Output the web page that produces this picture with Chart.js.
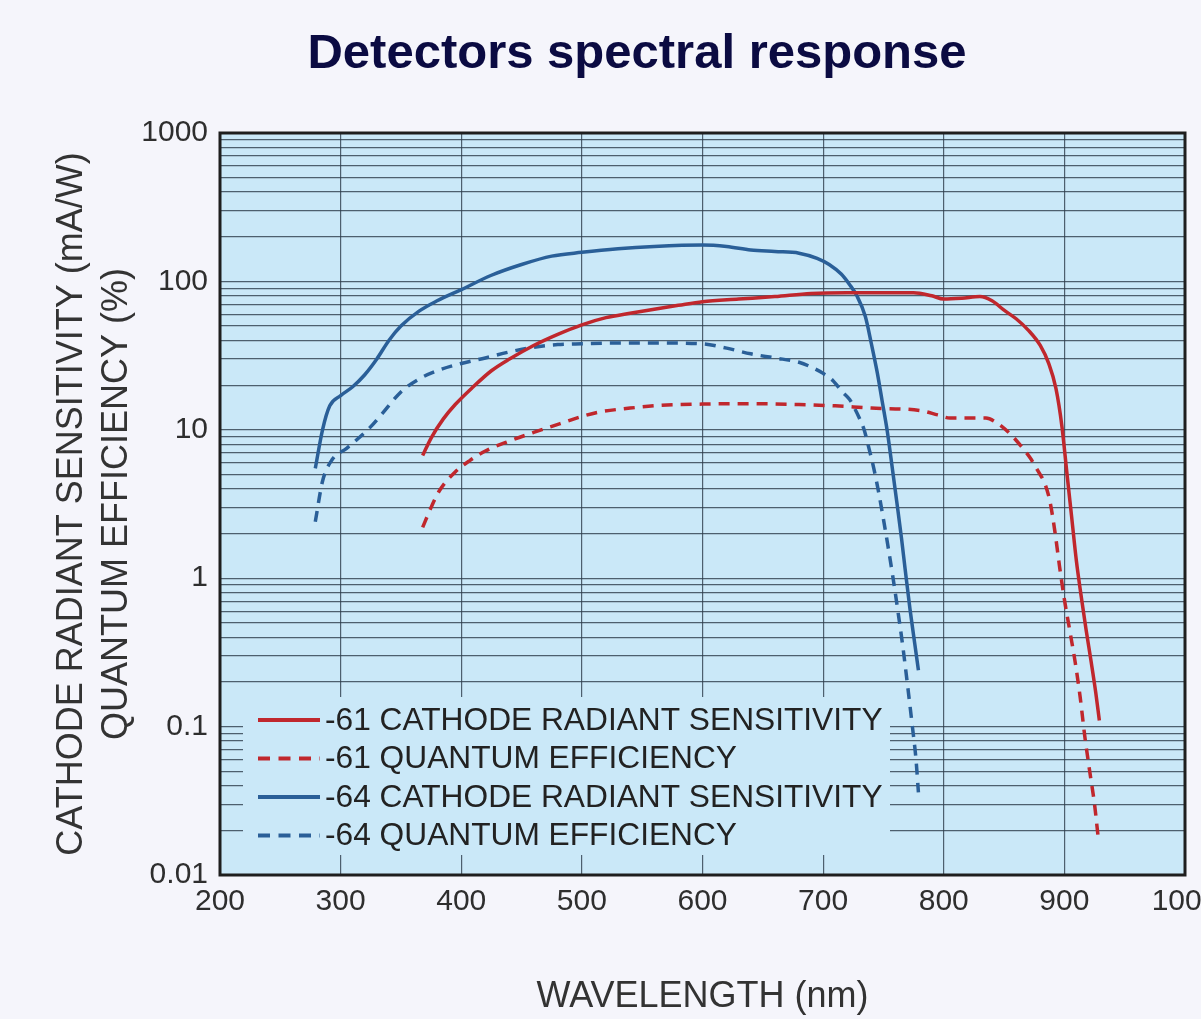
<!DOCTYPE html>
<html>
<head>
<meta charset="utf-8">
<title>Detectors spectral response</title>
<script src="https://cdn.jsdelivr.net/npm/chart.js@4.4.1/dist/chart.umd.min.js"></script>
<style>
  html, body { margin: 0; padding: 0; background: #f5f5fb; overflow: hidden; }
  #wrap { width: 1240px; height: 1019px; }
</style>
</head>
<body>
<div id="wrap"><canvas id="chart" width="1240" height="1019"></canvas></div>
<script>
// ---- axis ticks ----
const wavelengthTicks = [200, 300, 400, 500, 600, 700, 800, 900, 1000];
const decadeTicks = [0.01, 0.1, 1, 10, 100, 1000];
const decadeLabels = ['0.01', '0.1', '1', '10', '100', '1000'];

// ---- -61 photocathode: radiant sensitivity (mA/W) ----
const wl61Sens = [368, 375, 385, 395, 410, 425, 440, 460, 480, 500, 520, 540, 560, 580, 600, 630, 660, 690, 720, 750, 775, 790, 800, 815, 830, 840, 850, 860, 870, 880, 887, 893, 898, 902, 906, 910, 914, 918, 922, 926, 929];
const sens61 = [6.7, 8.8, 11.8, 14.8, 19.5, 25, 30, 37, 44, 51, 57, 61, 65, 69, 73, 76, 79, 83, 84, 84, 84, 80, 76, 77, 79, 74, 64, 56, 47, 37, 28, 19, 10.5, 5.2, 2.6, 1.3, 0.75, 0.45, 0.28, 0.17, 0.11];

// ---- -61 photocathode: quantum efficiency (%) ----
const wl61QE = [368, 375, 382, 395, 407, 420, 440, 460, 482, 500, 515, 540, 565, 600, 640, 680, 710, 740, 780, 795, 805, 835, 845, 855, 865, 872, 878, 884, 888, 892, 896, 900, 905, 909, 913, 917, 921, 925, 928];
const qe61 = [2.2, 3.0, 3.9, 5.2, 6.2, 7.2, 8.4, 9.6, 11, 12.3, 13.2, 14, 14.6, 14.9, 15, 14.8, 14.5, 14, 13.5, 12.6, 12, 12, 11, 9.4, 7.6, 6.4, 5.3, 4.3, 3.3, 2.1, 1.2, 0.72, 0.42, 0.27, 0.16, 0.085, 0.05, 0.03, 0.018];

// ---- -64 photocathode: radiant sensitivity (mA/W) ----
const wl64Sens = [279, 285, 291, 300, 310, 320, 330, 340, 350, 365, 380, 400, 425, 450, 475, 500, 530, 560, 600, 620, 640, 660, 680, 695, 705, 715, 722, 728, 735, 740, 745, 749, 753, 757, 761, 765, 768, 772, 776, 779];
const sens64 = [5.5, 10, 14.5, 17, 19.5, 23.5, 30, 40, 50, 63, 74, 88, 110, 130, 148, 157, 166, 172, 176, 172, 163, 159, 155, 143, 130, 112, 95, 80, 58, 38, 24, 15.5, 10, 5.8, 3.3, 1.85, 1.15, 0.62, 0.36, 0.24];

// ---- -64 photocathode: quantum efficiency (%) ----
const wl64QE = [279, 285, 293, 305, 315, 325, 335, 350, 365, 380, 400, 420, 440, 460, 480, 500, 530, 560, 600, 620, 640, 660, 680, 690, 700, 708, 716, 722, 726, 730, 734, 738, 742, 746, 750, 754, 758, 762, 766, 770, 774, 777, 779];
const qe64 = [2.4, 4.5, 6.3, 7.5, 8.8, 10.5, 13, 18, 22, 25, 28, 30.5, 33.5, 36, 37.5, 38, 38.5, 38.5, 38, 35.5, 32.5, 30.5, 28.5, 26.5, 24, 21.5, 18, 16, 14, 12, 10, 7.5, 5.5, 3.8, 2.5, 1.6, 1.0, 0.6, 0.35, 0.19, 0.1, 0.06, 0.036];

const RED = '#c0272d';
const BLUE = '#2a5f98';
const PLOT_BG = '#cae8f8';
const GRID = 'rgba(45, 60, 75, 0.8)';
const TEXT = '#2e2e2e';
const FONT = '"Liberation Sans", Arial, Helvetica, sans-serif';

const pairs = (xs, ys) => xs.map((x, i) => ({ x: x, y: ys[i] }));

function curve(label, xs, ys, color, dashed) {
  return {
    label: label,
    data: pairs(xs, ys),
    borderColor: color,
    backgroundColor: color,
    borderWidth: 3.5,
    borderDash: dashed ? [11, 8] : [],
    pointRadius: 0,
    fill: false,
    cubicInterpolationMode: 'monotone'
  };
}

// plot background, frame, in-plot legend and heading
const decorations = {
  id: 'decorations',
  beforeDraw(chart) {
    const a = chart.chartArea, ctx = chart.ctx;
    ctx.save();
    ctx.fillStyle = PLOT_BG;
    ctx.fillRect(a.left, a.top, a.right - a.left, a.bottom - a.top);
    ctx.restore();
  },
  beforeDatasetsDraw(chart) {
    const a = chart.chartArea, ctx = chart.ctx;
    const box = { x: a.left + 23, y: a.top + 564, w: 647, h: 158 };
    ctx.save();
    ctx.fillStyle = PLOT_BG;
    ctx.fillRect(box.x, box.y, box.w, box.h);
    ctx.font = '31.7px ' + FONT;
    ctx.textBaseline = 'middle';
    ctx.textAlign = 'left';
    chart.data.datasets.forEach((ds, i) => {
      const y = box.y + 23 + i * 38.5;
      ctx.strokeStyle = ds.borderColor;
      ctx.lineWidth = 4;
      ctx.setLineDash(ds.borderDash.length ? [12, 8.5] : []);
      ctx.beginPath();
      ctx.moveTo(box.x + 15, y);
      ctx.lineTo(box.x + 77, y);
      ctx.stroke();
      ctx.setLineDash([]);
      ctx.fillStyle = '#222';
      ctx.fillText(ds.label, box.x + 82, y + 1);
    });
    ctx.restore();
  },
  afterDraw(chart) {
    const a = chart.chartArea, ctx = chart.ctx;
    ctx.save();
    ctx.strokeStyle = '#1e1e1e';
    ctx.lineWidth = 3;
    ctx.strokeRect(a.left, a.top, a.right - a.left, a.bottom - a.top);
    ctx.fillStyle = '#0b0b42';
    ctx.font = 'bold 49px ' + FONT;
    ctx.textAlign = 'center';
    ctx.textBaseline = 'middle';
    ctx.fillText('Detectors spectral response', 637, 54);
    ctx.restore();
  }
};

Chart.defaults.font.family = FONT;
Chart.defaults.color = TEXT;

new Chart(document.getElementById('chart'), {
  type: 'line',
  data: {
    datasets: [
      curve('-61 CATHODE RADIANT SENSITIVITY', wl61Sens, sens61, RED, false),
      curve('-61 QUANTUM EFFICIENCY', wl61QE, qe61, RED, true),
      curve('-64 CATHODE RADIANT SENSITIVITY', wl64Sens, sens64, BLUE, false),
      curve('-64 QUANTUM EFFICIENCY', wl64QE, qe64, BLUE, true)
    ]
  },
  options: {
    responsive: false,
    animation: false,
    devicePixelRatio: 1,
    layout: { padding: { top: 133, right: 55, bottom: 0, left: 0 } },
    plugins: { legend: { display: false }, tooltip: { enabled: false }, title: { display: false } },
    scales: {
      x: {
        type: 'linear',
        min: wavelengthTicks[0],
        max: wavelengthTicks[wavelengthTicks.length - 1],
        afterBuildTicks(scale) { scale.ticks = wavelengthTicks.map(v => ({ value: v })); },
        afterFit(scale) { scale.height = 144; },
        grid: { color: GRID, lineWidth: 1.2, drawTicks: false },
        border: { display: false },
        ticks: { font: { size: 30 }, color: TEXT, padding: 9, autoSkip: false, maxRotation: 0,
                  callback: v => String(v) },
        title: { display: true, text: 'WAVELENGTH (nm)', color: '#333', font: { size: 36 },
                 padding: { top: 0, bottom: 0 } }
      },
      y: {
        type: 'logarithmic',
        min: decadeTicks[0],
        max: decadeTicks[decadeTicks.length - 1],
        afterBuildTicks(scale) {
          const t = [];
          for (let d = 0; d < decadeTicks.length; d++) {
            const base = decadeTicks[d];
            t.push({ value: base });
            if (d < decadeTicks.length - 1) {
              for (let m = 2; m <= 9; m++) t.push({ value: +(base * m).toPrecision(3) });
            }
          }
          scale.ticks = t;
        },
        afterFit(scale) { scale.width = 220; },
        grid: { color: GRID, lineWidth: 1.2, drawTicks: false },
        border: { display: false },
        ticks: {
          font: { size: 30 }, color: TEXT, padding: 12, autoSkip: false,
          callback(v) {
            const i = decadeTicks.findIndex(d => Math.abs(d - v) / d < 1e-6);
            return i >= 0 ? decadeLabels[i] : '';
          }
        },
        title: { display: true, text: ['CATHODE RADIANT SENSITIVITY (mA/W)', 'QUANTUM EFFICIENCY (%)'],
                 color: '#333', font: { size: 36, lineHeight: 1.25 }, padding: { top: 50, bottom: 0 } }
      }
    }
  },
  plugins: [decorations]
});
</script>
</body>
</html>
